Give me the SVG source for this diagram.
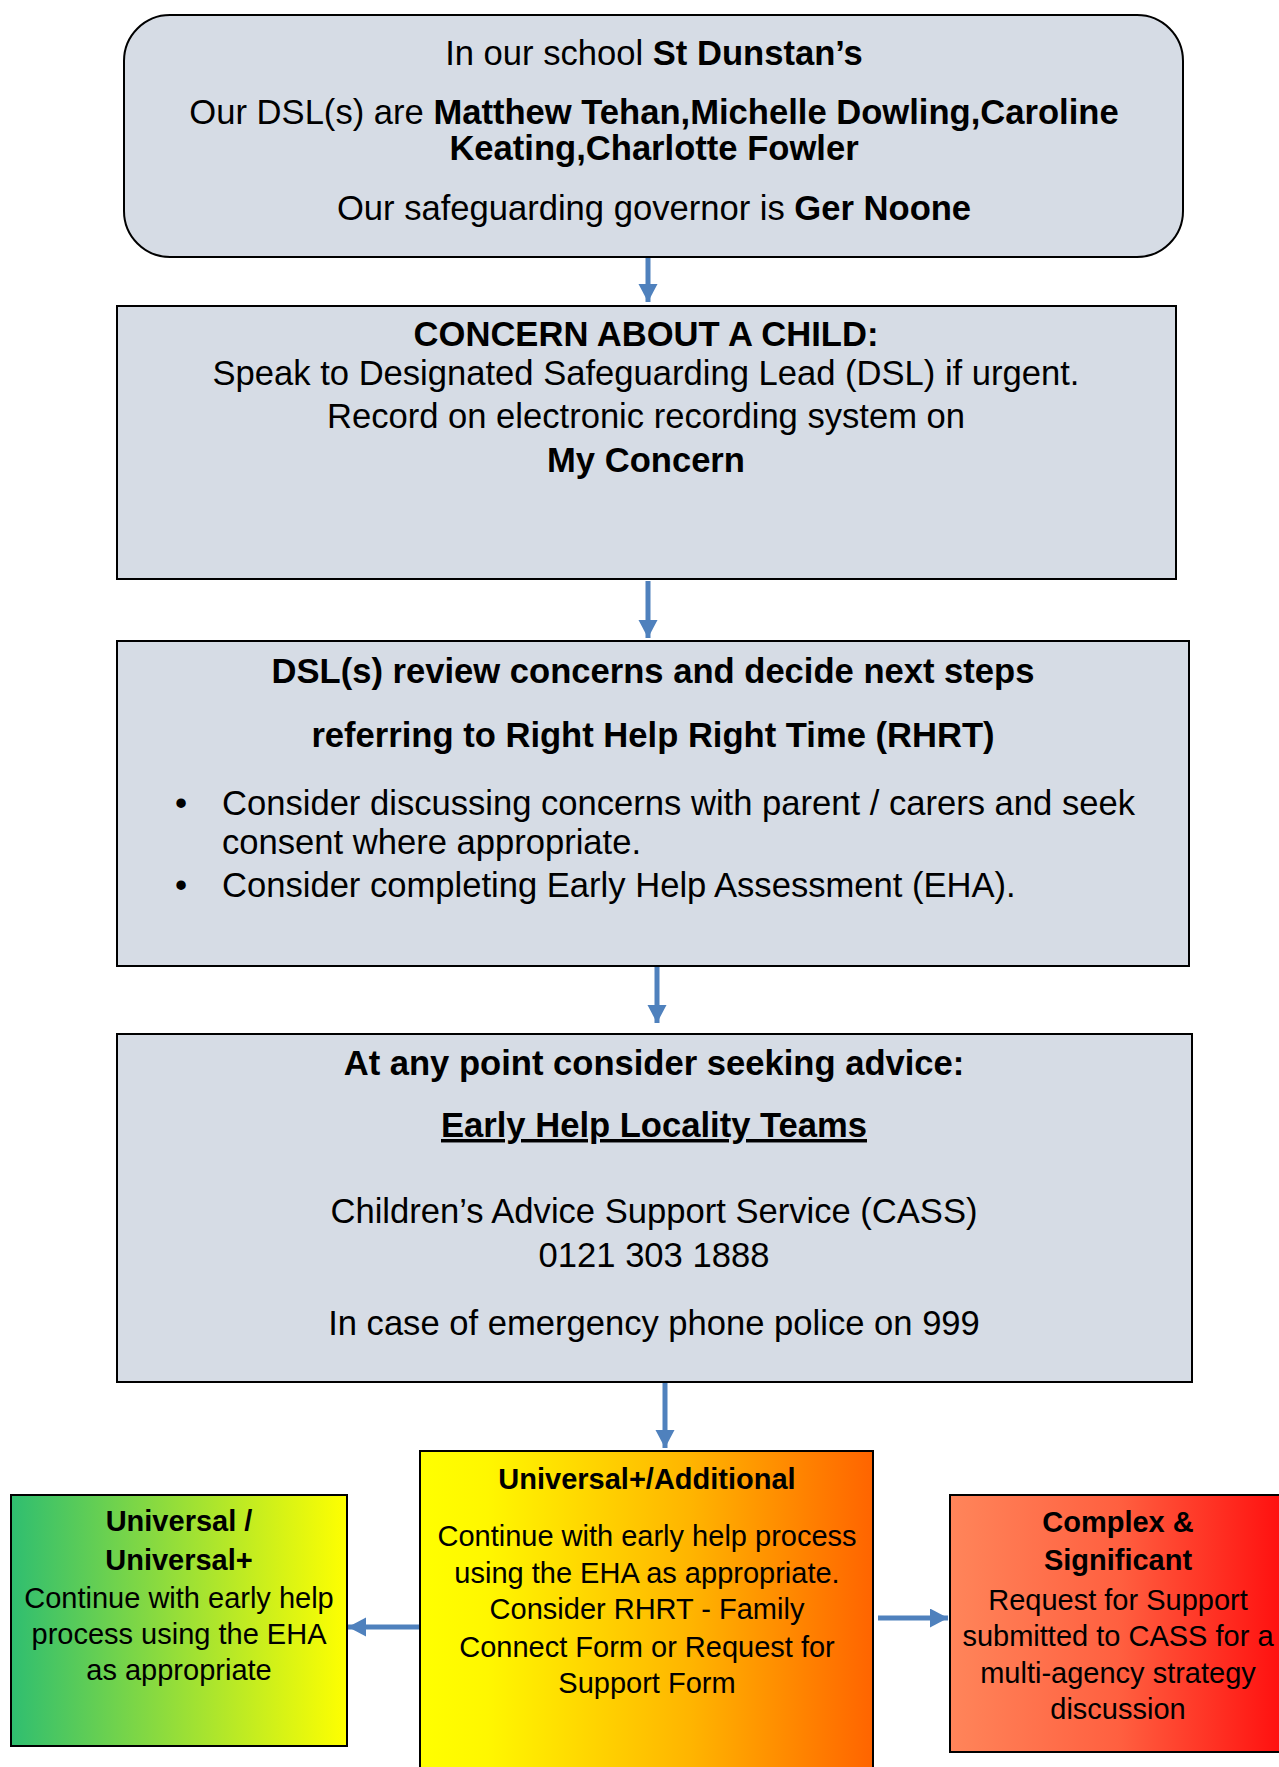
<svg xmlns="http://www.w3.org/2000/svg" width="1279" height="1767" viewBox="0 0 1279 1767">
<defs>
<style>
text{font-family:"Liberation Sans",Arial,sans-serif;fill:#000}
.t{font-size:34.6px;text-anchor:middle}
.s{font-size:29px;text-anchor:middle}
.l{font-size:34.6px}
.b{font-weight:bold}
.box{fill:#d6dce5;stroke:#000;stroke-width:2}
.cbox{stroke:#000;stroke-width:2}
.arr{stroke:#4f81bd;stroke-width:5;fill:none;marker-end:url(#ah)}
</style>
<marker id="ah" markerUnits="userSpaceOnUse" markerWidth="20" markerHeight="20" refX="18" refY="9.5" orient="auto">
<path d="M0,0 L18,9.5 L0,19 z" fill="#4f81bd"/>
</marker>
<linearGradient id="gGreen" x1="0" y1="0" x2="1" y2="0">
<stop offset="0" stop-color="#2fbe70"/>
<stop offset="1" stop-color="#ffff00"/>
</linearGradient>
<linearGradient id="gOrange" x1="0" y1="0" x2="1" y2="0">
<stop offset="0" stop-color="#ffff00"/>
<stop offset="0.15" stop-color="#fff700"/>
<stop offset="0.6" stop-color="#ffb400"/>
<stop offset="1" stop-color="#ff6400"/>
</linearGradient>
<linearGradient id="gRed" x1="0" y1="0" x2="1" y2="0">
<stop offset="0" stop-color="#ff855a"/>
<stop offset="0.5" stop-color="#ff6040"/>
<stop offset="1" stop-color="#ff0e0e"/>
</linearGradient>
</defs>
<rect width="1279" height="1767" fill="#fff"/>

<g id="connectors">
<line class="arr" x1="648" y1="243" x2="648" y2="302"/>
<line class="arr" x1="648" y1="581" x2="648" y2="638"/>
<line class="arr" x1="657" y1="966" x2="657" y2="1023"/>
<line class="arr" x1="665" y1="1382" x2="665" y2="1448"/>
<line class="arr" x1="420" y1="1627" x2="348" y2="1627"/>
<line class="arr" x1="878" y1="1618" x2="948" y2="1618"/>
</g>

<g id="school">
<rect class="box" x="124" y="15" width="1059" height="242" rx="46" ry="46"/>
<text class="t" x="654" y="65">In our school <tspan class="b">St Dunstan’s</tspan></text>
<text class="t" x="654" y="124">Our DSL(s) are <tspan class="b">Matthew Tehan,Michelle Dowling,Caroline</tspan></text>
<text class="t b" x="654" y="160">Keating,Charlotte Fowler</text>
<text class="t" x="654" y="220">Our safeguarding governor is <tspan class="b">Ger Noone</tspan></text>
</g>

<g id="concern">
<rect class="box" x="117" y="306" width="1059" height="273"/>
<text class="t b" x="646" y="346">CONCERN ABOUT A CHILD:</text>
<text class="t" x="646" y="385">Speak to Designated Safeguarding Lead (DSL) if urgent.</text>
<text class="t" x="646" y="428">Record on electronic recording system on</text>
<text class="t b" x="646" y="472">My Concern</text>
</g>

<g id="review">
<rect class="box" x="117" y="641" width="1072" height="325"/>
<text class="t b" x="653" y="683">DSL(s) review concerns and decide next steps</text>
<text class="t b" x="653" y="747">referring to Right Help Right Time (RHRT)</text>
<text class="l" x="175" y="815">•</text>
<text class="l" x="222" y="815">Consider discussing concerns with parent / carers and seek</text>
<text class="l" x="222" y="854">consent where appropriate.</text>
<text class="l" x="175" y="897">•</text>
<text class="l" x="222" y="897">Consider completing Early Help Assessment (EHA).</text>
</g>

<g id="advice">
<rect class="box" x="117" y="1034" width="1075" height="348"/>
<text class="t b" x="654" y="1075">At any point consider seeking advice:</text>
<text class="t b" x="654" y="1137" text-decoration="underline">Early Help Locality Teams</text>
<text class="t" x="654" y="1223">Children’s Advice Support Service (CASS)</text>
<text class="t" x="654" y="1267">0121 303 1888</text>
<text class="t" x="654" y="1335">In case of emergency phone police on 999</text>
</g>

<g id="additional">
<rect class="cbox" x="420" y="1451" width="453" height="330" fill="url(#gOrange)"/>
<text class="s b" x="647" y="1489">Universal+/Additional</text>
<text class="s" x="647" y="1546">Continue with early help process</text>
<text class="s" x="647" y="1583">using the EHA as appropriate.</text>
<text class="s" x="647" y="1619">Consider RHRT - Family</text>
<text class="s" x="647" y="1657">Connect Form or Request for</text>
<text class="s" x="647" y="1693">Support Form</text>
</g>

<g id="universal">
<rect class="cbox" x="11" y="1495" width="336" height="251" fill="url(#gGreen)"/>
<text class="s b" x="179" y="1531">Universal /</text>
<text class="s b" x="179" y="1570">Universal+</text>
<text class="s" x="179" y="1608">Continue with early help</text>
<text class="s" x="179" y="1644">process using the EHA</text>
<text class="s" x="179" y="1680">as appropriate</text>
</g>

<g id="complex">
<rect class="cbox" x="950" y="1495" width="336" height="257" fill="url(#gRed)"/>
<text class="s b" x="1118" y="1532">Complex &amp;</text>
<text class="s b" x="1118" y="1570">Significant</text>
<text class="s" x="1118" y="1610">Request for Support</text>
<text class="s" x="1118" y="1646">submitted to CASS for a</text>
<text class="s" x="1118" y="1683">multi-agency strategy</text>
<text class="s" x="1118" y="1719">discussion</text>
</g>
</svg>
